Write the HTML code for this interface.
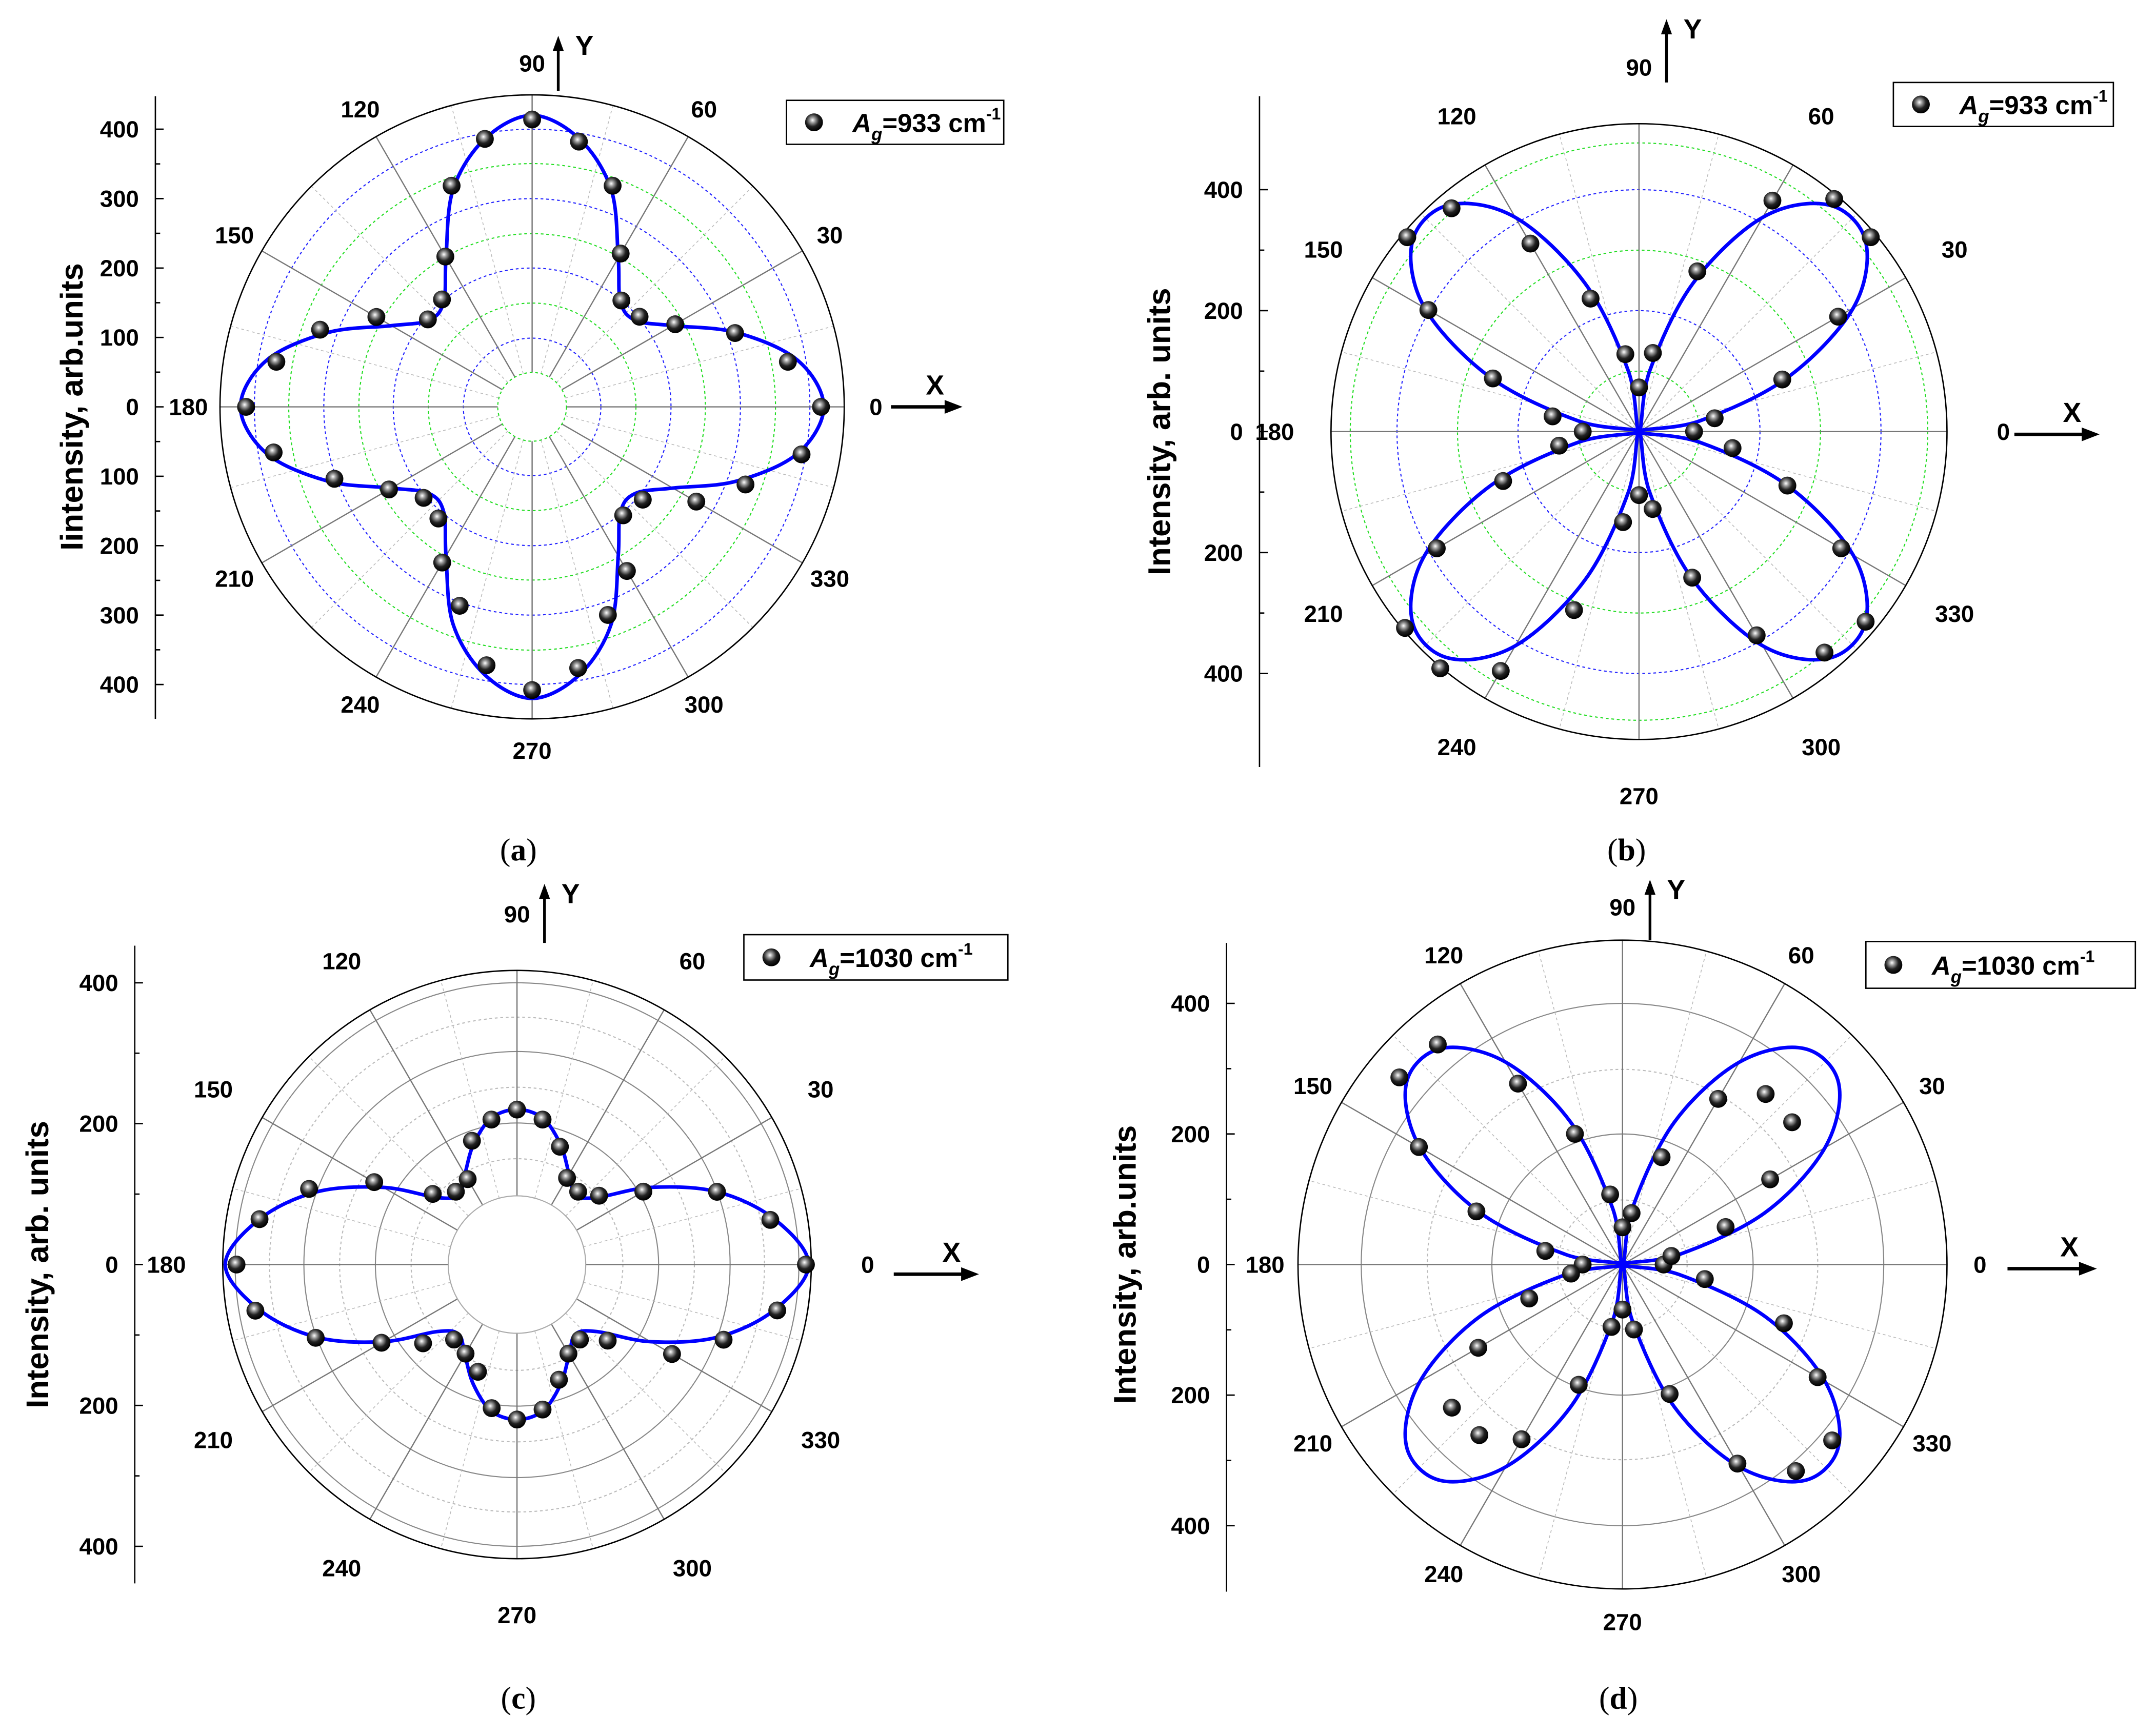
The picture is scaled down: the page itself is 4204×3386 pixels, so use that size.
<!DOCTYPE html>
<html><head><meta charset="utf-8"><style>
html,body{margin:0;padding:0;background:#fff;}
svg{display:block;}
text{font-family:"Liberation Sans",Arial,sans-serif;}
</style></head><body>
<svg id="fig" xmlns="http://www.w3.org/2000/svg" width="4204" height="3386" viewBox="0 0 1568 1263" preserveAspectRatio="none">
<defs>
<radialGradient id="ball" cx="0.42" cy="0.38" r="0.6">
<stop offset="0" stop-color="#ffffff"/><stop offset="0.25" stop-color="#9a9a9a"/><stop offset="0.6" stop-color="#222"/><stop offset="1" stop-color="#000"/>
</radialGradient>
</defs>
</svg>
<script>
// ===== data (angles in degrees, intensities in arb. units) =====
const anglesDeg = [0,10,20,30,40,50,60,70,80,90,100,110,120,130,140,150,160,170,180,190,200,210,220,230,240,250,260,270,280,290,300,310,320,330,340,350];
const pointsA = [416,374,311,238,202,200,255,339,388,414,392,339,250,202,196,259,325,374,412,378,303,238,204,210,259,305,378,408,382,319,273,204,208,273,327,394];
const fitA = [420,388,313,234,194,198,248,333,392,420,392,333,248,198,194,234,313,388,420,388,313,234,194,198,248,333,392,420,392,333,248,198,194,234,313,388];
const pointsB = [91,127,252,380,500,502,441,282,132,73,130,234,359,482,500,402,257,145,93,134,239,386,505,511,457,314,152,105,130,257,389,477,489,386,261,157];
const fitB = [0,102,261,409,489,489,409,261,102,0,102,261,409,489,489,409,261,102,0,102,261,409,489,489,409,261,102,0,102,261,409,489,489,409,261,102];
const pointsC = [410,365,302,207,152,135,142,178,209,220,209,187,140,135,156,234,314,371,398,377,304,222,174,139,146,162,207,220,209,174,146,139,168,254,312,375];
const fitC = [414,371,302,219,148,129,148,181,211,220,211,181,148,129,148,219,302,371,414,371,302,219,148,129,148,181,211,220,211,181,148,129,148,219,302,371];
const pointsD = [63,76,168,261,339,341,293,175,80,57,109,213,320,440,446,360,238,120,61,80,152,255,341,341,309,196,97,69,101,211,352,413,419,345,263,128];
const fitD = [0,88,232,358,432,432,358,232,88,0,88,232,358,432,432,358,232,88,0,88,232,358,432,432,358,232,88,0,88,232,358,432,432,358,232,88];
const angleLabels = [0,30,60,90,120,150,180,210,240,270,300,330];
const tickLabelsA = [400,300,200,100,0,100,200,300,400];
const tickLabelsBCD = [400,200,0,200,400];
const legendA = "933";
const legendC = "1030";

const NS = "http://www.w3.org/2000/svg";
const svg = document.getElementById('fig');
function mk(tag, attrs, parent){const e=document.createElementNS(NS,tag);for(const k in attrs)e.setAttribute(k,attrs[k]);(parent||svg).appendChild(e);return e;}

function panel(cfg){
  const g = mk('g',{});
  
  
  const cx=cfg.cx, cy=cfg.cy, k=cfg.k, R=cfg.outer;
  const rr = v => v*k;
  const pt = (a,v)=>[cx+rr(v)*Math.cos(a*Math.PI/180), cy-rr(v)*Math.sin(a*Math.PI/180)];
  cfg.rings.forEach(r=>{
    const c=mk('circle',{cx:cx,cy:cy,r:r.r,fill:'none',stroke:r.c,'stroke-width':r.w||0.8,'stroke-dasharray':r.d||'none'},g);
    
    
  });
  for(let a=0;a<360;a+=15){
    const major = a%30===0;
    const c=Math.cos(a*Math.PI/180), s=Math.sin(a*Math.PI/180);
    const l=mk('line',{x1:cx+cfg.hole*c,y1:cy-cfg.hole*s,x2:cx+R*c,y2:cy-R*s,stroke:major?'#777':'#bbb','stroke-width':major?0.9:0.6,'stroke-dasharray':major?'none':'2,2'},g);
    
    
  }
  const hc=mk('circle',{cx:cx,cy:cy,r:cfg.hole,fill:'#fff',stroke:cfg.holeStroke,'stroke-width':0.8,'stroke-dasharray':cfg.holeDash||'none'},g);
  
  
  const oc=mk('circle',{cx:cx,cy:cy,r:R,fill:'none',stroke:'#000','stroke-width':1},g);
  
  
  angleLabels.forEach(a=>{
    const lr=cfg.labelR;
    const x=cx+lr*Math.cos(a*Math.PI/180), y=cy-lr*Math.sin(a*Math.PI/180)+6;
    const t=mk('text',{x:x,y:y,'text-anchor':'middle','font-size':17,'font-weight':'bold'},g);
    t.textContent=a;
    
    
  });
  const P = anglesDeg.map((a,i)=>pt(a,cfg.fit[i]));
  const n=P.length;
  let d='M'+P[0][0].toFixed(2)+','+P[0][1].toFixed(2);
  for(let i=0;i<n;i++){
    const p0=P[(i-1+n)%n],p1=P[i],p2=P[(i+1)%n],p3=P[(i+2)%n];
    const c1=[p1[0]+(p2[0]-p0[0])/6,p1[1]+(p2[1]-p0[1])/6];
    const c2=[p2[0]-(p3[0]-p1[0])/6,p2[1]-(p3[1]-p1[1])/6];
    d+=' C'+c1[0].toFixed(2)+','+c1[1].toFixed(2)+' '+c2[0].toFixed(2)+','+c2[1].toFixed(2)+' '+p2[0].toFixed(2)+','+p2[1].toFixed(2);
  }
  const fp=mk('path',{d:d+'Z',fill:'none',stroke:'#0000ff','stroke-width':2.6,'stroke-linejoin':'round'},g);
  
  
  anglesDeg.forEach((a,i)=>{
    const p=pt(a,cfg.points[i]);
    const c=mk('circle',{cx:p[0],cy:p[1],r:6.5,fill:'url(#ball)'},g);
    
    
  });
  const ax=cfg.axis;
  const al=mk('line',{x1:ax.x,y1:ax.y0,x2:ax.x,y2:ax.y1,stroke:'#000','stroke-width':1},g);
  
  
  const ticks=cfg.ticks, step=cfg.tickStep;
  ticks.forEach((lab,i)=>{
    const v=(i-(ticks.length-1)/2)*step;
    const y=cy+rr(v);
    mk('line',{x1:ax.x,y1:y,x2:ax.x+6,y2:y,stroke:'#000','stroke-width':1},g);
    if(i<ticks.length-1){mk('line',{x1:ax.x,y1:y+rr(step)/2,x2:ax.x+3.5,y2:y+rr(step)/2,stroke:'#000','stroke-width':1},g);}
    const t=mk('text',{x:ax.x-12,y:y+6,'text-anchor':'end','font-size':17,'font-weight':'bold'},g);
    t.textContent=lab;
    
    
  });
  const yt=mk('text',{x:0,y:0,'text-anchor':'middle','font-size':23,'font-weight':'bold',transform:'translate('+ax.titleX+','+cy+') rotate(-90)'},g);
  yt.textContent=cfg.yTitle;
  
  
  const xa=cfg.xArrow;
  mk('line',{x1:xa.x0,y1:xa.y,x2:xa.x1-10,y2:xa.y,stroke:'#000','stroke-width':2.5},g);
  mk('polygon',{points:(xa.x1)+','+xa.y+' '+(xa.x1-13)+','+(xa.y-5)+' '+(xa.x1-13)+','+(xa.y+5),fill:'#000'},g);
  const xt=mk('text',{x:xa.x1-20,y:xa.y-9,'text-anchor':'middle','font-size':20,'font-weight':'bold'},g);
  xt.textContent='X';
  
  
  const ya=cfg.yArrow;
  mk('line',{x1:ya.x,y1:ya.y0,x2:ya.x,y2:ya.y1+8,stroke:'#000','stroke-width':2},g);
  mk('polygon',{points:ya.x+','+ya.y1+' '+(ya.x-4)+','+(ya.y1+11)+' '+(ya.x+4)+','+(ya.y1+11),fill:'#000'},g);
  const ytt=mk('text',{x:ya.x+19,y:ya.y1+14,'text-anchor':'middle','font-size':20,'font-weight':'bold'},g);
  ytt.textContent='Y';
  
  
  const L=cfg.legend;
  const lg=mk('g',{},g);
  
  
  mk('rect',{x:L.x,y:L.y,width:L.w,height:L.h,fill:'#fff',stroke:'#000','stroke-width':1},lg);
  mk('circle',{cx:L.x+20,cy:L.y+L.h/2,r:6.5,fill:'url(#ball)'},lg);
  const lt=mk('text',{x:L.x+48,y:L.y+L.h/2+7,'font-size':19,'font-weight':'bold'},lg);
  lt.innerHTML='<tspan font-style="italic">A</tspan><tspan font-style="italic" font-size="13" dy="6">g</tspan><tspan dy="-6">='+L.val+' cm</tspan><tspan font-size="12" dy="-9">-1</tspan>';
  const cap=mk('text',{x:cfg.capX,y:cfg.capY,'text-anchor':'middle','font-size':23},g);
  cap.setAttribute('style','font-family:"Liberation Serif",serif');
  cap.innerHTML='(<tspan font-weight="bold">'+cfg.cap+'</tspan>)';
  
  
}

const blue='#2222ff', green='#22dd22';
panel({name:'panel-a',cx:387,cy:296,k:0.505,outer:227,hole:25,holeStroke:green,holeDash:'2,2',labelR:250,
  rings:[50,75.5,101,126,151.5,177,202].map((r,i)=>({r:r,c:i%2===0?blue:green,d:'2,2'})),
  fit:fitA,points:pointsA,ticks:tickLabelsA,tickStep:100,axis:{x:113,y0:70,y1:523,titleX:60},yTitle:'Iintensity, arb.units',
  xArrow:{x0:648,x1:700,y:296},yArrow:{x:406,y0:66,y1:26},legend:{x:572,y:73,w:158,h:32,val:legendA},cap:'a',capX:377,capY:626});
panel({name:'panel-b',cx:1192,cy:314,k:0.44,outer:224,hole:0,holeStroke:'none',labelR:265,
  rings:[{r:44,c:green,d:'2,2'},{r:88,c:blue,d:'2,2'},{r:132,c:green,d:'2,2'},{r:176,c:blue,d:'2,2'},{r:210,c:green,d:'2,2'}],
  fit:fitB,points:pointsB,ticks:tickLabelsBCD,tickStep:200,axis:{x:916,y0:70,y1:558,titleX:851},yTitle:'Intensity, arb. units',
  xArrow:{x0:1465,x1:1527,y:316},yArrow:{x:1212,y0:60,y1:14},legend:{x:1377,y:60,w:160,h:32,val:legendA},cap:'b',capX:1183,capY:626});
panel({name:'panel-c',cx:376,cy:920,k:0.5125,outer:214,hole:50,holeStroke:'#aaa',labelR:255,
  rings:[{r:77,c:'#bbb',d:'2,2'},{r:103,c:'#888'},{r:129,c:'#bbb',d:'2,2'},{r:155,c:'#888'},{r:180,c:'#bbb',d:'2,2'},{r:205,c:'#888'}],
  fit:fitC,points:pointsC,ticks:tickLabelsBCD,tickStep:200,axis:{x:98,y0:688,y1:1152,titleX:35},yTitle:'Intensity, arb. units',
  xArrow:{x0:650,x1:712,y:927},yArrow:{x:396,y0:686,y1:643},legend:{x:541,y:680,w:192,h:33,val:legendC},cap:'c',capX:377,capY:1243});
panel({name:'panel-d',cx:1180,cy:920,k:0.475,outer:236,hole:0,holeStroke:'none',labelR:260,
  rings:[{r:47,c:'#bbb',d:'2,2'},{r:95,c:'#888'},{r:142,c:'#bbb',d:'2,2'},{r:190,c:'#888'}],
  fit:fitD,points:pointsD,ticks:tickLabelsBCD,tickStep:200,axis:{x:892,y0:686,y1:1158,titleX:826},yTitle:'Intensity, arb.units',
  xArrow:{x0:1460,x1:1525,y:923},yArrow:{x:1200,y0:684,y1:640},legend:{x:1357,y:685,w:196,h:34,val:legendC},cap:'d',capX:1177,capY:1243});
</script>
</body></html>
